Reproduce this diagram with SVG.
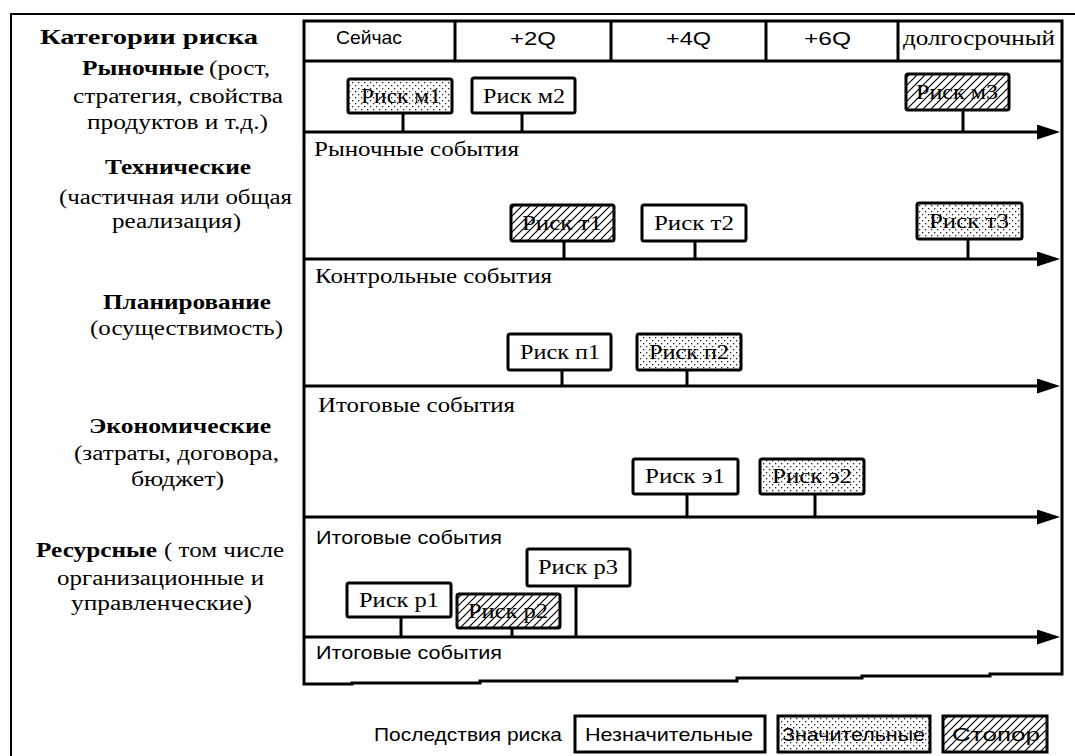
<svg xmlns="http://www.w3.org/2000/svg" width="1075" height="756" viewBox="0 0 1075 756">
<style>
  .frame{fill:none;stroke:#000;stroke-width:3}
  .outer{fill:none;stroke:#000;stroke-width:2}
  .axis{fill:none;stroke:#000;stroke-width:3}
  .tick{fill:none;stroke:#000;stroke-width:3}
  .box{stroke:#000;stroke-width:3}
  .plain{fill:#fff}
  .dotted{fill:url(#dots)}
  .hatched{fill:url(#hatch)}
  .serif{font-family:"Liberation Serif","Times New Roman",serif;font-size:20px;fill:#000}
  .bold{font-family:"Liberation Serif","Times New Roman",serif;font-size:21px;font-weight:bold;fill:#000}
  .sans{font-family:"Liberation Sans",Arial,sans-serif;font-size:19px;fill:#000}
  .lbl{font-family:"Liberation Serif","Times New Roman",serif;font-size:20px;fill:#000;text-anchor:middle}
</style>
<defs>
  <pattern id="dots" width="6" height="6" patternUnits="userSpaceOnUse">
    <rect width="6" height="6" fill="#fff"/>
    <rect x="1" y="1" width="1.3" height="1.3" fill="#222"/>
    <rect x="4" y="4" width="1.3" height="1.3" fill="#222"/>
  </pattern>
  <pattern id="hatch" width="8" height="8" patternUnits="userSpaceOnUse">
    <rect width="8" height="8" fill="#fff"/>
    <path d="M-2,2 L2,-2 M0,8 L8,0 M6,10 L10,6" stroke="#000" stroke-width="1.2"/>
  </pattern>
  <marker id="arrow" markerUnits="userSpaceOnUse" markerWidth="24" markerHeight="16" refX="18" refY="7.5" orient="auto">
    <path d="M0,0 L23,7.5 L0,15 z" fill="#000"/>
  </marker>
</defs>
<rect width="1075" height="756" fill="#fff"/>

<!-- outer frame -->
<g id="outer-frame">
  <path class="outer" d="M11,756 L11,14 L1075,14"/>
</g>

<!-- timeline frame and header -->
<g id="timeline-frame">
  <path class="frame" d="M304,684 L352,684 L352,683 L480,683 L480,681 L737,681 L737,678 L862,678 L862,676 L990,676 L990,674 L1062,674 L1062,21 L304,21 Z"/>
  <line class="frame" x1="304" y1="61" x2="1062" y2="61"/>
  <line class="frame" x1="455" y1="21" x2="455" y2="61"/>
  <line class="frame" x1="611" y1="21" x2="611" y2="61"/>
  <line class="frame" x1="766" y1="21" x2="766" y2="61"/>
  <line class="frame" x1="898" y1="21" x2="898" y2="61"/>
</g>
<g id="header">
  <text class="sans" x="336" y="44" textLength="66" lengthAdjust="spacingAndGlyphs">Сейчас</text>
  <text class="sans" x="510" y="45" textLength="46" lengthAdjust="spacingAndGlyphs">+2Q</text>
  <text class="sans" x="666" y="45" textLength="45" lengthAdjust="spacingAndGlyphs">+4Q</text>
  <text class="sans" x="804" y="45" textLength="47" lengthAdjust="spacingAndGlyphs">+6Q</text>
  <text class="serif" x="903" y="45" textLength="152" lengthAdjust="spacingAndGlyphs">долгосрочный</text>
</g>

<!-- category labels -->
<g id="cat-title">
  <text class="bold" x="40" y="44" textLength="218" lengthAdjust="spacingAndGlyphs">Категории риска</text>
</g>
<g id="cat-market">
  <text class="bold" x="82" y="75" textLength="122" lengthAdjust="spacingAndGlyphs">Рыночные</text>
  <text class="serif" x="209" y="75" textLength="61" lengthAdjust="spacingAndGlyphs">(рост,</text>
  <text class="serif" x="73" y="103" textLength="210" lengthAdjust="spacingAndGlyphs">стратегия, свойства</text>
  <text class="serif" x="87" y="129" textLength="181" lengthAdjust="spacingAndGlyphs">продуктов и т.д.)</text>
</g>
<g id="cat-tech">
  <text class="bold" x="105" y="174" textLength="146" lengthAdjust="spacingAndGlyphs">Технические</text>
  <text class="serif" x="59" y="204" textLength="233" lengthAdjust="spacingAndGlyphs">(частичная или общая</text>
  <text class="serif" x="112" y="228" textLength="129" lengthAdjust="spacingAndGlyphs">реализация)</text>
</g>
<g id="cat-plan">
  <text class="bold" x="103" y="309" textLength="168" lengthAdjust="spacingAndGlyphs">Планирование</text>
  <text class="serif" x="90" y="335" textLength="193" lengthAdjust="spacingAndGlyphs">(осуществимость)</text>
</g>
<g id="cat-econ">
  <text class="bold" x="89" y="433" textLength="182" lengthAdjust="spacingAndGlyphs">Экономические</text>
  <text class="serif" x="74" y="460" textLength="205" lengthAdjust="spacingAndGlyphs">(затраты, договора,</text>
  <text class="serif" x="131" y="486" textLength="93" lengthAdjust="spacingAndGlyphs">бюджет)</text>
</g>
<g id="cat-res">
  <text class="bold" x="36" y="557" textLength="121" lengthAdjust="spacingAndGlyphs">Ресурсные</text>
  <text class="serif" x="164" y="557" textLength="120" lengthAdjust="spacingAndGlyphs">( том числе</text>
  <text class="serif" x="57" y="585" textLength="207" lengthAdjust="spacingAndGlyphs">организационные и</text>
  <text class="serif" x="71" y="610" textLength="181" lengthAdjust="spacingAndGlyphs">управленческие)</text>
</g>

<!-- connectors: event axes and ticks -->
<g id="connectors">
  <line class="axis" x1="304" y1="132" x2="1055" y2="132" marker-end="url(#arrow)"/>
  <line class="axis" x1="304" y1="259" x2="1055" y2="259" marker-end="url(#arrow)"/>
  <line class="axis" x1="304" y1="386" x2="1055" y2="386" marker-end="url(#arrow)"/>
  <line class="axis" x1="304" y1="517" x2="1055" y2="517" marker-end="url(#arrow)"/>
  <line class="axis" x1="304" y1="637" x2="1055" y2="637" marker-end="url(#arrow)"/>
  <line class="tick" x1="403" y1="113" x2="403" y2="132"/>
  <line class="tick" x1="522" y1="113" x2="522" y2="132"/>
  <line class="tick" x1="963" y1="110" x2="963" y2="132"/>
  <line class="tick" x1="564" y1="241" x2="564" y2="259"/>
  <line class="tick" x1="695" y1="241" x2="695" y2="259"/>
  <line class="tick" x1="968" y1="239" x2="968" y2="259"/>
  <line class="tick" x1="562" y1="370" x2="562" y2="386"/>
  <line class="tick" x1="687" y1="370" x2="687" y2="386"/>
  <line class="tick" x1="687" y1="494" x2="687" y2="517"/>
  <line class="tick" x1="815" y1="494" x2="815" y2="517"/>
  <line class="tick" x1="401" y1="617" x2="401" y2="637"/>
  <line class="tick" x1="512" y1="628" x2="512" y2="637"/>
  <line class="tick" x1="576" y1="586" x2="576" y2="637"/>
</g>
<g id="axis-labels">
  <text class="serif" x="314" y="156" textLength="205" lengthAdjust="spacingAndGlyphs">Рыночные события</text>
  <text class="serif" x="315" y="283" textLength="237" lengthAdjust="spacingAndGlyphs">Контрольные события</text>
  <text class="serif" x="318" y="412" textLength="197" lengthAdjust="spacingAndGlyphs">Итоговые события</text>
  <text class="sans" x="316" y="544" textLength="186" lengthAdjust="spacingAndGlyphs">Итоговые события</text>
  <text class="sans" x="316" y="659" textLength="186" lengthAdjust="spacingAndGlyphs">Итоговые события</text>
</g>

<!-- risk nodes -->
<g id="risk-m1"><rect class="box dotted" x="348" y="79" width="104" height="34" rx="2"/><text class="lbl" x="401" y="103" textLength="80" lengthAdjust="spacingAndGlyphs">Риск м1</text></g>
<g id="risk-m2"><rect class="box plain" x="472" y="78" width="103" height="35" rx="2"/><text class="lbl" x="524" y="103" textLength="82" lengthAdjust="spacingAndGlyphs">Риск м2</text></g>
<g id="risk-m3"><rect class="box hatched" x="906" y="74" width="103" height="36" rx="2"/><text class="lbl" x="957" y="99" textLength="82" lengthAdjust="spacingAndGlyphs">Риск м3</text></g>
<g id="risk-t1"><rect class="box hatched" x="511" y="205" width="103" height="36" rx="2"/><text class="lbl" x="562" y="230" textLength="80" lengthAdjust="spacingAndGlyphs">Риск т1</text></g>
<g id="risk-t2"><rect class="box plain" x="642" y="205" width="104" height="36" rx="2"/><text class="lbl" x="694" y="230" textLength="80" lengthAdjust="spacingAndGlyphs">Риск т2</text></g>
<g id="risk-t3"><rect class="box dotted" x="917" y="203" width="105" height="36" rx="2"/><text class="lbl" x="969" y="228" textLength="80" lengthAdjust="spacingAndGlyphs">Риск т3</text></g>
<g id="risk-p1"><rect class="box plain" x="508" y="334" width="103" height="36" rx="2"/><text class="lbl" x="560" y="359" textLength="80" lengthAdjust="spacingAndGlyphs">Риск п1</text></g>
<g id="risk-p2"><rect class="box dotted" x="637" y="334" width="104" height="36" rx="2"/><text class="lbl" x="689" y="359" textLength="80" lengthAdjust="spacingAndGlyphs">Риск п2</text></g>
<g id="risk-e1"><rect class="box plain" x="633" y="459" width="105" height="35" rx="2"/><text class="lbl" x="685" y="483" textLength="80" lengthAdjust="spacingAndGlyphs">Риск э1</text></g>
<g id="risk-e2"><rect class="box dotted" x="760" y="459" width="104" height="35" rx="2"/><text class="lbl" x="812" y="483" textLength="80" lengthAdjust="spacingAndGlyphs">Риск э2</text></g>
<g id="risk-r1"><rect class="box plain" x="347" y="583" width="104" height="34" rx="2"/><text class="lbl" x="399" y="607" textLength="80" lengthAdjust="spacingAndGlyphs">Риск р1</text></g>
<g id="risk-r2"><rect class="box hatched" x="457" y="594" width="103" height="34" rx="2"/><text class="lbl" x="508" y="618" textLength="80" lengthAdjust="spacingAndGlyphs">Риск р2</text></g>
<g id="risk-r3"><rect class="box plain" x="527" y="549" width="103" height="37" rx="2"/><text class="lbl" x="578" y="574" textLength="80" lengthAdjust="spacingAndGlyphs">Риск р3</text></g>

<!-- legend -->
<g id="legend">
  <text class="sans" x="374" y="741" font-size="20" textLength="188" lengthAdjust="spacingAndGlyphs">Последствия риска</text>
  <g id="legend-minor"><rect class="box plain" x="575" y="716" width="190" height="36"/><text class="sans" x="585" y="741" textLength="168" lengthAdjust="spacingAndGlyphs">Незначительные</text></g>
  <g id="legend-major"><rect class="box dotted" x="778" y="716" width="152" height="36"/><text class="sans" x="782" y="741" textLength="143" lengthAdjust="spacingAndGlyphs">Значительные</text></g>
  <g id="legend-stop"><rect class="box hatched" x="943" y="716" width="104" height="36"/><text class="sans" x="952" y="741" textLength="88" lengthAdjust="spacingAndGlyphs">Стопор</text></g>
</g>
</svg>
